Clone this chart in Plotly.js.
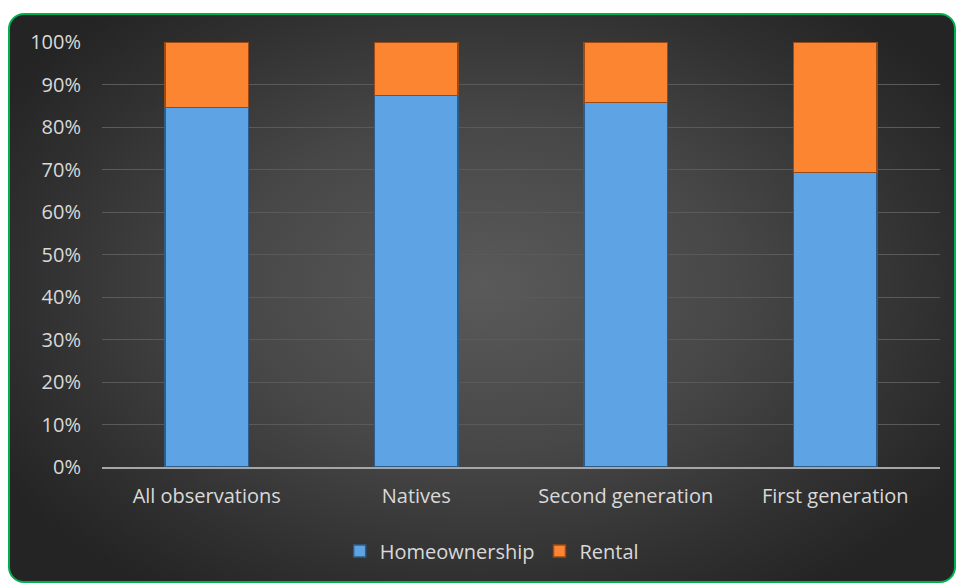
<!DOCTYPE html>
<html><head><meta charset="utf-8">
<script src="https://cdn.plot.ly/plotly-3.0.1.min.js"></script>
<style>
html,body{margin:0;padding:0;background:#fff;width:957px;height:583px;overflow:hidden;}
#chart{position:absolute;left:8px;top:13px;width:944px;height:566px;border:2px solid #00b050;border-radius:16px;
background:radial-gradient(ellipse 60% 65% at 50% 48%, #5a5a5a 0%, #474747 45%, #303030 80%, #242424 100%);overflow:hidden;}
</style></head><body>
<div id="chart"></div>
<script>
var categories = ["All observations","Natives","Second generation","First generation"];
var homeownership = [0.846, 0.874, 0.858, 0.693];
var rental = [0.154, 0.126, 0.142, 0.307];
var yTickVals = [0,0.1,0.2,0.3,0.4,0.5,0.6,0.7,0.8,0.9,1.0];
var yTickText = ["0%","10%","20%","30%","40%","50%","60%","70%","80%","90%","100%"];

var traces = [
 {type:'bar', name:'Homeownership', x:categories, y:homeownership,
  marker:{color:'#5ea3e4', line:{color:'#2d5d8a', width:1.5}}},
 {type:'bar', name:'Rental', x:categories, y:rental,
  marker:{color:'#fb8530', line:{color:'#9a4a12', width:1.5}}}
];
var layout = {
 width:944, height:566,
 barmode:'stack', bargap:0.6,
 paper_bgcolor:'rgba(0,0,0,0)', plot_bgcolor:'rgba(0,0,0,0)',
 margin:{l:92, r:14, t:27, b:113},
 font:{family:'"Open Sans", sans-serif', size:20, color:'#d9d9d9'},
 xaxis:{showgrid:false, ticks:'', showline:true, linecolor:'#a6a6a6', linewidth:2,
  ticklabelstandoff:10, tickfont:{size:20, color:'#d9d9d9'}},
 yaxis:{range:[0,1.0], tickvals:yTickVals, ticktext:yTickText, showgrid:true, gridcolor:'#5a5a5a', gridwidth:1,
  zeroline:false, showline:false, ticks:'', ticklabelstandoff:20, tickfont:{size:20, color:'#d9d9d9'}},
 legend:{orientation:'h', traceorder:'normal', x:0.465, xanchor:'center', y:-0.195, yanchor:'middle',
  font:{size:20, color:'#d9d9d9'}, bgcolor:'rgba(0,0,0,0)', itemwidth:30, tracegroupgap:0},
 showlegend:true
};
Plotly.newPlot('chart', traces, layout, {displayModeBar:false, staticPlot:true});
</script>
</body></html>
